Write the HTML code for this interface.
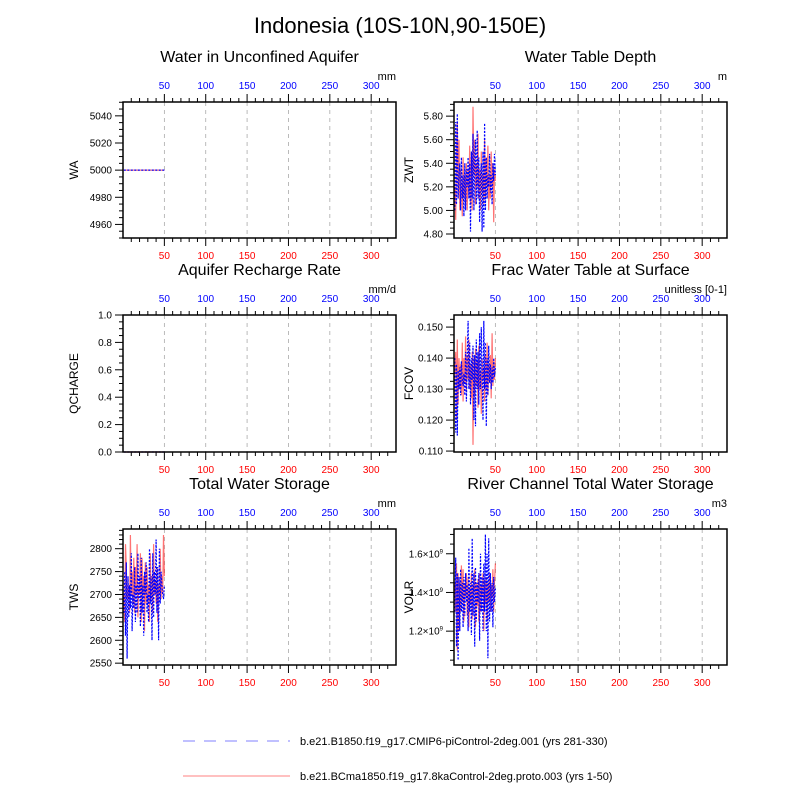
<!DOCTYPE html>
<html><head><meta charset="utf-8"><style>
body{margin:0;background:#fff;}
svg{display:block;font-family:"Liberation Sans",sans-serif;}
</style></head><body>
<svg id="chart" width="800" height="800" viewBox="0 0 800 800">
<text x="400" y="33" text-anchor="middle" font-size="22">Indonesia (10S-10N,90-150E)</text>
<g id="panels"></g>
<g>
<line x1="183" y1="741" x2="290" y2="741" stroke="#8080ff" stroke-width="1" stroke-dasharray="12,9"/>
<text x="300" y="745" font-size="11">b.e21.B1850.f19_g17.CMIP6-piControl-2deg.001 (yrs 281-330)</text>
<line x1="183" y1="776" x2="290" y2="776" stroke="#ff8080" stroke-width="1"/>
<text x="300" y="780" font-size="11">b.e21.BCma1850.f19_g17.8kaControl-2deg.proto.003 (yrs 1-50)</text>
</g>
</svg>
<script>
const xTicks=[50,100,150,200,250,300];
const waRed=Array(50).fill(5000);
const waBlue=Array(50).fill(5000);
const qRed=Array(50).fill(0);
const qBlue=Array(50).fill(0);
const zwtRed=[5.2,4.92,5.5,5.75,5.1,5.6,5.0,5.35,5.2,4.95,5.45,5.1,5.3,5.05,5.4,5.0,5.35,5.15,5.55,5.05,5.45,5.0,5.88,5.3,5.6,5.05,5.4,5.2,5.65,5.1,5.35,5.0,5.5,5.15,5.3,5.05,5.6,5.1,5.45,5.2,5.55,5.0,5.3,5.1,5.5,5.2,5.4,4.9,5.35,5.25];
const zwtBlue=[5.0,5.75,5.05,5.82,5.1,5.3,5.4,5.0,5.45,5.1,5.3,4.95,5.4,5.0,5.35,5.2,5.45,5.1,5.4,4.82,5.5,5.1,5.65,5.0,5.45,5.6,5.05,5.68,5.1,5.45,4.9,5.3,5.4,4.82,5.5,4.85,5.74,5.0,5.45,5.1,5.3,5.2,5.48,5.15,5.3,5.05,5.4,5.25,5.48,5.3];
const fcovRed=[0.135,0.142,0.12,0.146,0.125,0.14,0.13,0.138,0.128,0.145,0.126,0.14,0.132,0.147,0.129,0.141,0.133,0.146,0.13,0.138,0.127,0.142,0.112,0.14,0.128,0.143,0.131,0.139,0.124,0.144,0.13,0.136,0.122,0.14,0.133,0.137,0.126,0.141,0.13,0.145,0.128,0.138,0.132,0.141,0.127,0.148,0.131,0.139,0.133,0.14];
const fcovBlue=[0.14,0.116,0.138,0.115,0.136,0.13,0.137,0.128,0.139,0.133,0.131,0.135,0.128,0.142,0.126,0.14,0.152,0.13,0.145,0.125,0.14,0.133,0.144,0.12,0.141,0.118,0.146,0.13,0.142,0.125,0.148,0.13,0.15,0.135,0.12,0.152,0.13,0.145,0.118,0.14,0.128,0.144,0.132,0.138,0.13,0.137,0.132,0.14,0.134,0.137];
const twsRed=[2700,2640,2810,2760,2690,2700,2720,2660,2830,2700,2750,2680,2780,2660,2760,2700,2810,2650,2720,2700,2790,2640,2780,2700,2740,2620,2770,2680,2760,2700,2720,2640,2790,2690,2740,2660,2810,2700,2730,2680,2760,2640,2720,2700,2800,2690,2740,2700,2830,2740];
const twsBlue=[2660,2750,2610,2770,2560,2740,2650,2720,2670,2790,2620,2700,2670,2760,2640,2720,2660,2790,2690,2740,2630,2780,2660,2720,2610,2750,2700,2770,2660,2700,2640,2800,2680,2740,2600,2790,2650,2750,2700,2820,2660,2760,2600,2800,2680,2750,2720,2700,2690,2720];
const volrRed=[1.45,1.3,1.55,1.1,1.5,1.2,1.45,1.3,1.54,1.35,1.52,1.25,1.45,1.38,1.5,1.28,1.48,1.22,1.42,1.34,1.5,1.26,1.44,1.4,1.52,1.22,1.45,1.33,1.47,1.25,1.5,1.3,1.44,1.38,1.5,1.2,1.46,1.34,1.48,1.25,1.45,1.35,1.5,1.3,1.44,1.38,1.52,1.3,1.45,1.55];
const volrBlue=[1.3,1.58,1.12,1.5,1.05,1.48,1.2,1.52,1.3,1.45,1.22,1.48,1.28,1.5,1.35,1.44,1.2,1.63,1.3,1.45,1.18,1.68,1.28,1.5,1.12,1.53,1.25,1.45,1.35,1.5,1.15,1.6,1.3,1.48,1.2,1.55,1.3,1.7,1.2,1.6,1.06,1.68,1.25,1.5,1.3,1.45,1.22,1.48,1.35,1.42];

const NS='http://www.w3.org/2000/svg';
const root=document.getElementById('panels');
function mk(tag,attrs,parent){const e=document.createElementNS(NS,tag);for(const k in attrs)e.setAttribute(k,attrs[k]);(parent||root).appendChild(e);return e;}
const cols=[{x0:123,x1:396},{x0:454,x1:727}];
const rows=[{y0:102,y1:238},{y0:315,y1:452},{y0:529,y1:665}];
const panels=[
 {c:0,r:0,title:'Water in Unconfined Aquifer',units:'mm',yl:'WA',ymin:4950,ymax:5050.2,maj:[4960,4980,5000,5020,5040],minStep:5,fmt:v=>String(v),red:waRed,blue:waBlue},
 {c:1,r:0,title:'Water Table Depth',units:'m',yl:'ZWT',ymin:4.766,ymax:5.92,maj:[4.8,5.0,5.2,5.4,5.6,5.8],minStep:0.05,fmt:v=>v.toFixed(2),red:zwtRed,blue:zwtBlue},
 {c:0,r:1,title:'Aquifer Recharge Rate',units:'mm/d',yl:'QCHARGE',ymin:0,ymax:1,maj:[0,0.2,0.4,0.6,0.8,1.0],minStep:0.05,fmt:v=>v.toFixed(1),red:qRed,blue:qBlue},
 {c:1,r:1,title:'Frac Water Table at Surface',units:'unitless [0-1]',yl:'FCOV',ymin:0.1097,ymax:0.1539,maj:[0.11,0.12,0.13,0.14,0.15],minStep:0.0025,fmt:v=>v.toFixed(3),red:fcovRed,blue:fcovBlue},
 {c:0,r:2,title:'Total Water Storage',units:'mm',yl:'TWS',ymin:2546,ymax:2843,maj:[2550,2600,2650,2700,2750,2800],minStep:10,fmt:v=>String(v),red:twsRed,blue:twsBlue},
 {c:1,r:2,title:'River Channel Total Water Storage',units:'m3',yl:'VOLR',ymin:1.025,ymax:1.728,maj:[1.2,1.4,1.6],minStep:0.05,sci:true,fmt:v=>v.toFixed(1),red:volrRed,blue:volrBlue}
];
panels.forEach((p,i)=>{
 const C=cols[p.c],R=rows[p.r];
 const g=mk('g',{});
 
 
 const X=v=>C.x0+(v/330)*(C.x1-C.x0);
 const Y=v=>R.y1-(v-p.ymin)/(p.ymax-p.ymin)*(R.y1-R.y0);
 const t=mk('text',{x:(C.x0+C.x1)/2,y:R.y0-40,'text-anchor':'middle','font-size':16},g);t.textContent=p.title;
 
 
 const u=mk('text',{x:C.x1,y:R.y0-22,'text-anchor':'end','font-size':11},g);u.textContent=p.units;
 
 
 xTicks.forEach(v=>{mk('line',{x1:X(v),x2:X(v),y1:R.y0,y2:R.y1,stroke:'#aaa','stroke-dasharray':'4,4','stroke-width':0.8},g);});
 for(let v=10;v<330;v+=10){const mj=v%50===0;const L=mj?8:4;
  mk('line',{x1:X(v),x2:X(v),y1:R.y0,y2:R.y0-L,stroke:'#000','stroke-width':1},g);
  mk('line',{x1:X(v),x2:X(v),y1:R.y1,y2:R.y1+L,stroke:'#000','stroke-width':1},g);}
 xTicks.forEach(v=>{
  const a=mk('text',{x:X(v),y:R.y0-13,'text-anchor':'middle','font-size':10,fill:'#0000ff'},g);a.textContent=v;
  
  
  const b=mk('text',{x:X(v),y:R.y1+21,'text-anchor':'middle','font-size':10,fill:'#ff0000'},g);b.textContent=v;
  
  
 });
 const first=Math.ceil(p.ymin/p.minStep-1e-6)*p.minStep;
 for(let v=first;v<=p.ymax+1e-9;v+=p.minStep){
  const mj=p.maj.some(m=>Math.abs(m-v)<p.minStep/10);
  mk('line',{x1:C.x0,x2:C.x0-(mj?8:4),y1:Y(v),y2:Y(v),stroke:'#000','stroke-width':1},g);}
 p.maj.forEach(v=>{
  const tx=mk('text',{x:C.x0-11,y:Y(v)+3.5,'text-anchor':'end','font-size':10},g);
  
  
  if(p.sci){tx.textContent=p.fmt(v)+'×10';const s=mk('tspan',{dy:-4,'font-size':6},tx);s.textContent='9';}
  else tx.textContent=p.fmt(v);
 });
 const yl=mk('text',{transform:`translate(${C.x0-(p.c?41:45)},${(R.y0+R.y1)/2}) rotate(-90)`,'text-anchor':'middle','font-size':12},g);yl.textContent=p.yl;
 
 
 const pts=a=>a.map((v,k)=>X(k+1).toFixed(1)+','+Y(v).toFixed(1)).join(' ');
 const rl=mk('polyline',{points:pts(p.red),fill:'none',stroke:'#ff0000','stroke-opacity':0.55,'stroke-width':1.2},g);
 
 
 const bl=mk('polyline',{points:pts(p.blue),fill:'none',stroke:'#0000ff','stroke-width':1.2,'stroke-dasharray':'2,1.5'},g);
 
 
 mk('rect',{x:C.x0,y:R.y0,width:C.x1-C.x0,height:R.y1-R.y0,fill:'none',stroke:'#000','stroke-width':1.5},g);
});
</script>
</body></html>
